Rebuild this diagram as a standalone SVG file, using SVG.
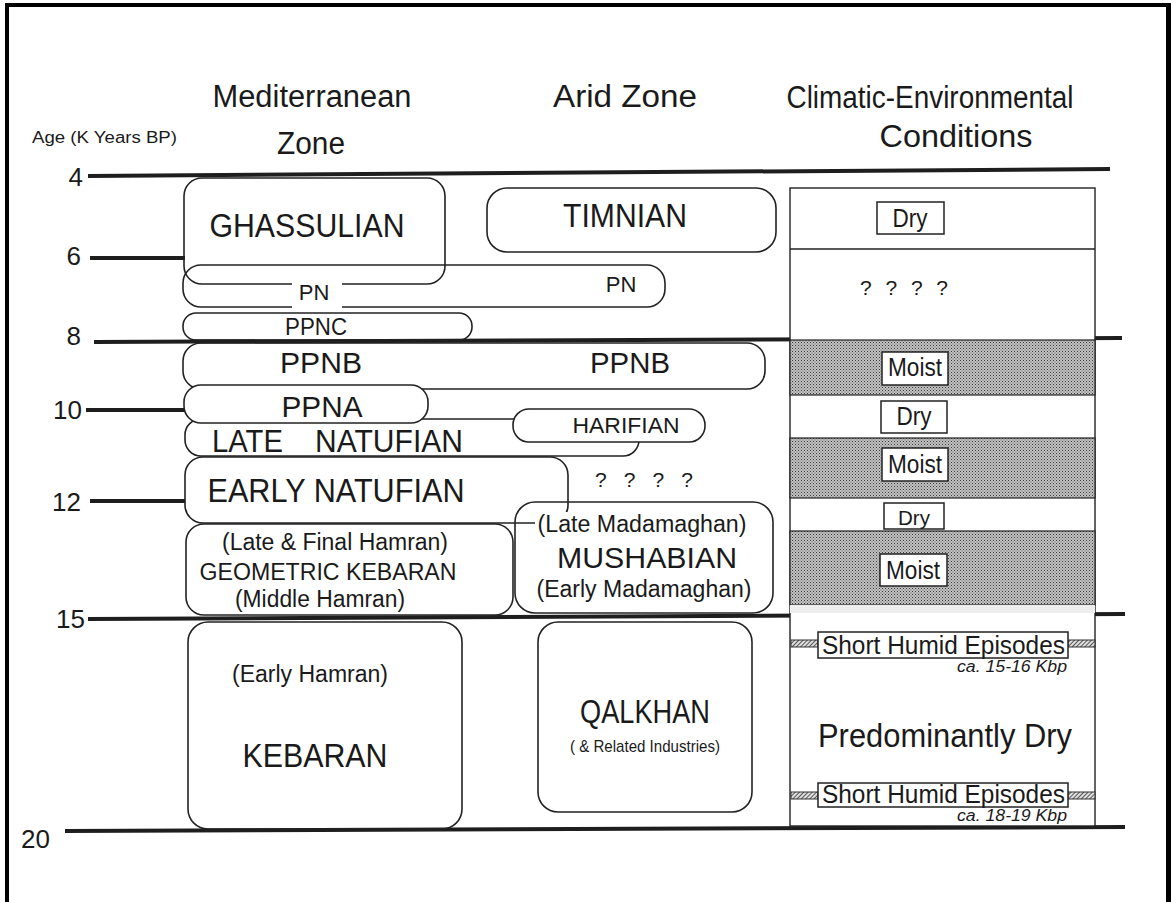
<svg xmlns="http://www.w3.org/2000/svg" width="1171" height="902" viewBox="0 0 1171 902">
<style>
text{font-family:"Liberation Sans",Arial,sans-serif;fill:#1a1a1a}
.box{fill:none;stroke:#222;stroke-width:1.6}
.wbox{fill:#fff;stroke:#222;stroke-width:1.6}
.tag{fill:#fff;stroke:#222;stroke-width:1.5}
.age{stroke:#1e1e1e;stroke-width:4;fill:none}
.thin{stroke:#222;stroke-width:1.4;fill:none}
.c{text-anchor:middle}
.hdr{font-size:31px}
.num{font-size:26px;text-anchor:end}
.big{font-size:33px}
.mid{font-size:23px}
.tg{font-size:25px}
.it{font-style:italic;font-size:16px}
</style>
<defs>
<pattern id="stip" width="3" height="3" patternUnits="userSpaceOnUse">
<rect width="3" height="3" fill="#c2c2c2"/>
<rect width="1" height="1" fill="#3a3a3a"/>
<rect x="1.5" y="1.5" width="1" height="1" fill="#5a5a5a"/>
</pattern>
<pattern id="hatch" width="3" height="3" patternUnits="userSpaceOnUse" patternTransform="rotate(45)">
<rect width="3" height="3" fill="#e0e0e0"/>
<rect width="1" height="3" fill="#555"/>
</pattern>
</defs>

<g id="frame">
<rect x="5" y="3" width="1166" height="4" fill="#000"/>
<rect x="5" y="3" width="4" height="899" fill="#000"/>
<rect x="1166" y="3" width="5" height="899" fill="#000"/>
</g>

<g id="headers">
<text class="hdr c" x="312" y="107" textLength="199" lengthAdjust="spacingAndGlyphs">Mediterranean</text>
<text class="hdr c" x="311" y="154" textLength="68" lengthAdjust="spacingAndGlyphs">Zone</text>
<text class="hdr c" x="625" y="107" textLength="144" lengthAdjust="spacingAndGlyphs">Arid Zone</text>
<text class="hdr c" x="930" y="108" textLength="287" lengthAdjust="spacingAndGlyphs">Climatic-Environmental</text>
<text class="hdr c" x="956" y="147" textLength="153" lengthAdjust="spacingAndGlyphs">Conditions</text>
<text x="32" y="143" font-size="16" textLength="145" lengthAdjust="spacingAndGlyphs">Age  (K Years BP)</text>
</g>

<g id="age-scale">
<text class="num" x="83" y="186">4</text>
<text class="num" x="81" y="265">6</text>
<text class="num" x="81" y="345">8</text>
<text class="num" x="82" y="419">10</text>
<text class="num" x="81" y="511">12</text>
<text class="num" x="85" y="628">15</text>
<text class="num" x="50" y="848">20</text>
</g>

<g id="connectors">
<line class="age" x1="88" y1="176" x2="1110" y2="169"/>
<line class="age" x1="90" y1="258" x2="185" y2="258"/>
<line class="age" x1="94" y1="342" x2="1122" y2="338"/>
<line class="age" x1="86" y1="410" x2="185" y2="410"/>
<line class="age" x1="90" y1="501" x2="185" y2="501"/>
<line class="age" x1="88" y1="619" x2="1125" y2="614"/>
<line class="age" x1="65" y1="831" x2="1125" y2="827"/>
</g>

<g id="climate-column">
<rect x="790" y="188" width="305" height="638" fill="#fff" stroke="#222" stroke-width="1.4"/>
<line class="thin" x1="790" y1="249" x2="1095" y2="249"/>
<rect x="790" y="340" width="305" height="55" fill="url(#stip)" stroke="#222" stroke-width="1.2"/>
<rect x="790" y="438" width="305" height="60" fill="url(#stip)" stroke="#222" stroke-width="1.2"/>
<rect x="790" y="531" width="305" height="74" fill="url(#stip)" stroke="#222" stroke-width="1.2"/>
<rect x="790" y="605" width="305" height="8" fill="#eee"/>
</g>

<g id="n-ghassulian">
<rect class="box" x="184" y="178" width="261" height="106" rx="18"/>
<text class="big c" x="307" y="237" textLength="195" lengthAdjust="spacingAndGlyphs">GHASSULIAN</text>
</g>
<g id="n-pn">
<rect class="box" x="183" y="265" width="482" height="42" rx="18"/>
<rect x="292" y="280" width="50" height="30" fill="#fff"/>
<text class="c" font-size="22" x="314" y="300">PN</text>
<text class="c" font-size="22" x="621" y="292">PN</text>
</g>
<g id="n-ppnc">
<rect class="box" x="183" y="313" width="289" height="27" rx="13"/>
<text class="c" font-size="23" x="316" y="335" textLength="62" lengthAdjust="spacingAndGlyphs">PPNC</text>
</g>
<g id="n-ppnb">
<rect class="box" x="183" y="343" width="582" height="46" rx="18"/>
<text class="c" font-size="29" x="321" y="373" textLength="82" lengthAdjust="spacingAndGlyphs">PPNB</text>
<text class="c" font-size="29" x="630" y="373" textLength="80" lengthAdjust="spacingAndGlyphs">PPNB</text>
</g>
<g id="n-late-natufian">
<rect class="box" x="185" y="419" width="454" height="37" rx="16"/>
<text font-size="31" x="212" y="452" textLength="71" lengthAdjust="spacingAndGlyphs">LATE</text>
<text font-size="31" x="315" y="452" textLength="148" lengthAdjust="spacingAndGlyphs">NATUFIAN</text>
</g>
<g id="n-ppna">
<rect class="wbox" x="184" y="385" width="244" height="38" rx="17"/>
<text class="c" font-size="30" x="322" y="417" textLength="81" lengthAdjust="spacingAndGlyphs">PPNA</text>
</g>
<g id="n-harifian">
<rect class="wbox" x="513" y="409" width="192" height="33" rx="16"/>
<text class="c" font-size="22" x="626" y="433" textLength="107" lengthAdjust="spacingAndGlyphs">HARIFIAN</text>
</g>
<g id="n-timnian">
<rect class="box" x="487" y="188" width="289" height="64" rx="20"/>
<text class="big c" x="625" y="227" textLength="124" lengthAdjust="spacingAndGlyphs">TIMNIAN</text>
</g>
<g id="n-mushabian">
<rect class="box" x="515" y="502" width="258" height="111" rx="20"/>
</g>
<g id="n-early-natufian">
<rect class="box" x="185" y="457" width="383" height="66" rx="18"/>
<text class="big c" x="336" y="502" textLength="257" lengthAdjust="spacingAndGlyphs">EARLY NATUFIAN</text>
</g>
<g id="n-mushabian-text">
<rect x="535" y="512" width="215" height="26" fill="#fff"/>
<text class="mid c" x="642" y="532" textLength="209" lengthAdjust="spacingAndGlyphs">(Late Madamaghan)</text>
<text class="c" font-size="30" x="647" y="568" textLength="180" lengthAdjust="spacingAndGlyphs">MUSHABIAN</text>
<text class="mid c" x="644" y="597" textLength="215" lengthAdjust="spacingAndGlyphs">(Early Madamaghan)</text>
</g>
<g id="n-geometric-kebaran">
<rect class="box" x="186" y="524" width="327" height="91" rx="18"/>
<text class="mid c" x="335" y="550" textLength="226" lengthAdjust="spacingAndGlyphs">(Late &amp; Final Hamran)</text>
<text class="mid c" x="328" y="580" textLength="257" lengthAdjust="spacingAndGlyphs">GEOMETRIC KEBARAN</text>
<text class="mid c" x="320" y="607" textLength="170" lengthAdjust="spacingAndGlyphs">(Middle Hamran)</text>
</g>
<g id="n-unknown-arid">
<text class="c" font-size="21" x="644" y="487" textLength="98">? ? ? ?</text>
</g>
<g id="n-kebaran">
<rect class="box" x="188" y="622" width="274" height="207" rx="20"/>
<text class="mid c" x="310" y="682" textLength="156" lengthAdjust="spacingAndGlyphs">(Early Hamran)</text>
<text class="big c" x="315" y="767" textLength="145" lengthAdjust="spacingAndGlyphs">KEBARAN</text>
</g>
<g id="n-qalkhan">
<rect class="box" x="538" y="622" width="214" height="190" rx="20"/>
<text class="big c" x="645" y="723" textLength="130" lengthAdjust="spacingAndGlyphs">QALKHAN</text>
<text class="c" font-size="17" x="645" y="752" textLength="150" lengthAdjust="spacingAndGlyphs">( &amp;  Related Industries)</text>
</g>

<g id="n-dry-1">
<rect class="tag" x="877" y="202" width="67" height="32"/>
<text class="tg c" x="910" y="227" textLength="35" lengthAdjust="spacingAndGlyphs">Dry</text>
</g>
<g id="n-unknown-climate">
<text class="c" font-size="21" x="904" y="295" textLength="88">? ? ? ?</text>
</g>
<g id="n-moist-1">
<rect class="tag" x="882" y="352" width="66" height="33"/>
<text class="tg c" x="915" y="376" textLength="54" lengthAdjust="spacingAndGlyphs">Moist</text>
</g>
<g id="n-dry-2">
<rect class="tag" x="881" y="401" width="66" height="32"/>
<text class="tg c" x="914" y="425" textLength="35" lengthAdjust="spacingAndGlyphs">Dry</text>
</g>
<g id="n-moist-2">
<rect class="tag" x="882" y="448" width="66" height="33"/>
<text class="tg c" x="915" y="473" textLength="54" lengthAdjust="spacingAndGlyphs">Moist</text>
</g>
<g id="n-dry-3">
<rect class="tag" x="884" y="503" width="60" height="26"/>
<text class="c" font-size="20" x="914" y="525" textLength="32" lengthAdjust="spacingAndGlyphs">Dry</text>
</g>
<g id="n-moist-3">
<rect class="tag" x="880" y="554" width="67" height="32"/>
<text class="tg c" x="913" y="579" textLength="54" lengthAdjust="spacingAndGlyphs">Moist</text>
</g>
<g id="n-humid-1">
<rect x="791" y="640" width="27" height="7" fill="url(#hatch)" stroke="#333" stroke-width="1"/>
<rect x="1068" y="640" width="27" height="7" fill="url(#hatch)" stroke="#333" stroke-width="1"/>
<rect class="tag" x="818" y="632" width="250" height="26"/>
<text font-size="25" x="822" y="654" textLength="243" lengthAdjust="spacingAndGlyphs">Short  Humid  Episodes</text>
<text class="it" x="957" y="672" textLength="110" lengthAdjust="spacingAndGlyphs">ca. 15-16 Kbp</text>
</g>
<g id="n-predominantly-dry">
<text class="big c" x="945" y="747" textLength="254" lengthAdjust="spacingAndGlyphs">Predominantly Dry</text>
</g>
<g id="n-humid-2">
<rect x="791" y="792" width="27" height="7" fill="url(#hatch)" stroke="#333" stroke-width="1"/>
<rect x="1068" y="792" width="27" height="7" fill="url(#hatch)" stroke="#333" stroke-width="1"/>
<rect class="tag" x="818" y="783" width="250" height="24"/>
<text font-size="25" x="822" y="803" textLength="243" lengthAdjust="spacingAndGlyphs">Short  Humid  Episodes</text>
<text class="it" x="957" y="821" textLength="110" lengthAdjust="spacingAndGlyphs">ca. 18-19 Kbp</text>
</g>
</svg>
